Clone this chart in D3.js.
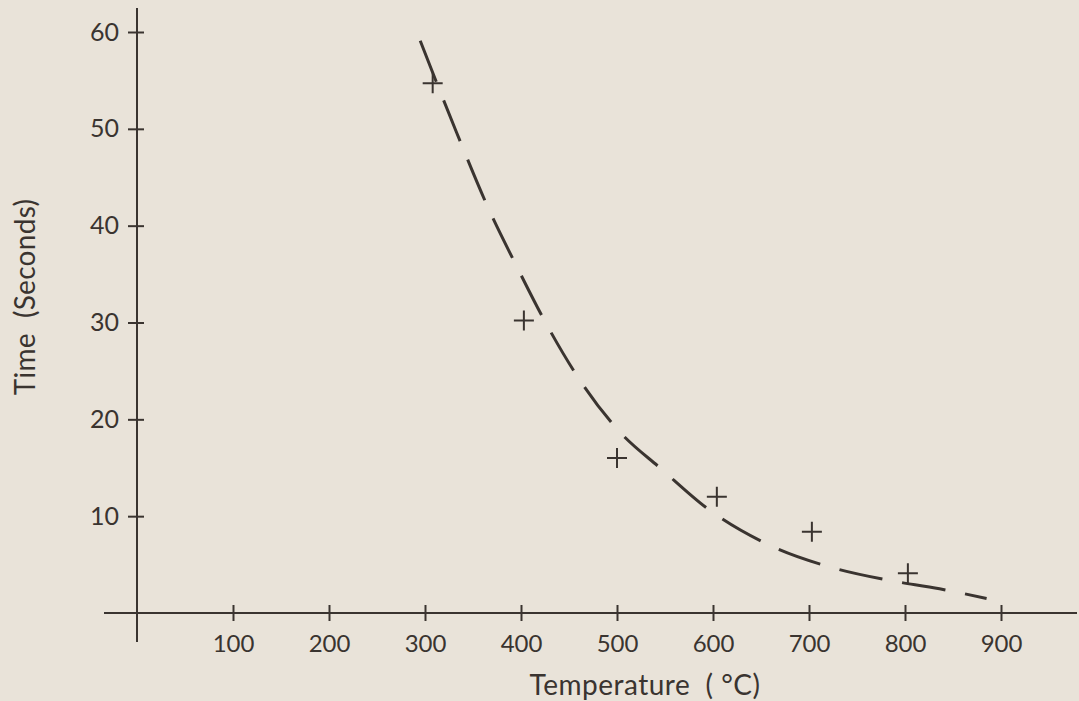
<!DOCTYPE html>
<html>
<head>
<meta charset="utf-8">
<script src="https://cdn.jsdelivr.net/npm/d3@7"></script>
<style>
  body { margin: 0; background: #e9e3d9; }
  svg { display: block; }
</style>
</head>
<body>
<div id="chart"></div>
<script>
// gemessene Punkte (+)
var measTemp = [308, 403, 500, 604, 703, 803];
var measTime = [54.7, 30.2, 16.0, 12.0, 8.4, 4.1];

// gestrichelte Kurve
var curveTemp = [295, 333, 366, 396, 425, 459, 501, 547, 594, 659, 722, 782, 836, 885];
var curveTime = [59.1, 49.6, 41.8, 35.7, 30.1, 24.4, 18.9, 14.8, 10.8, 7.0, 4.75, 3.4, 2.5, 1.5];

var xTicks = [100, 200, 300, 400, 500, 600, 700, 800, 900];
var yTicks = [10, 20, 30, 40, 50, 60];

var width = 1079, height = 701;
var ink = "#3a3430";
var font = "Lato, 'Open Sans', sans-serif";

var svg = d3.select("#chart")
    .append("svg")
    .attr("width", width)
    .attr("height", height);

svg.append("rect")
    .attr("width", width)
    .attr("height", height)
    .attr("fill", "#e9e3d9");

var x = d3.scaleLinear().domain([0, 900]).range([137, 1001]);
var y = d3.scaleLinear().domain([0, 60]).range([613, 32]);

// Achsenlinien
svg.append("line")
    .attr("x1", 104).attr("x2", 1077)
    .attr("y1", y(0)).attr("y2", y(0))
    .attr("stroke", ink).attr("stroke-width", 2);
svg.append("line")
    .attr("x1", x(0)).attr("x2", x(0))
    .attr("y1", 8).attr("y2", 642)
    .attr("stroke", ink).attr("stroke-width", 2);

// x-Achse
var xAxis = svg.append("g")
    .attr("transform", "translate(0," + y(0) + ")")
    .call(d3.axisBottom(x).tickValues(xTicks).tickSize(0).tickPadding(22));
xAxis.select(".domain").remove();
xAxis.selectAll(".tick line")
    .attr("y1", -8).attr("y2", 8)
    .attr("stroke", ink).attr("stroke-width", 2);
xAxis.selectAll(".tick text")
    .attr("fill", ink)
    .attr("font-family", font)
    .attr("font-size", "24px");

// y-Achse
var yAxis = svg.append("g")
    .attr("transform", "translate(" + x(0) + ",0)")
    .call(d3.axisLeft(y).tickValues(yTicks).tickSize(0).tickPadding(18));
yAxis.select(".domain").remove();
yAxis.selectAll(".tick line")
    .attr("x1", -9).attr("x2", 7)
    .attr("stroke", ink).attr("stroke-width", 2);
yAxis.selectAll(".tick text")
    .attr("fill", ink)
    .attr("font-family", font)
    .attr("font-size", "25px");

// Achsentitel
svg.append("text")
    .attr("x", 645)
    .attr("y", 695)
    .attr("text-anchor", "middle")
    .attr("fill", ink)
    .attr("font-family", font)
    .attr("font-size", "28px")
    .attr("letter-spacing", "0.5px")
    .attr("xml:space", "preserve")
    .text("Temperature  ( °C)");

svg.append("text")
    .attr("transform", "translate(35,297) rotate(-90)")
    .attr("text-anchor", "middle")
    .attr("fill", ink)
    .attr("font-family", font)
    .attr("font-size", "28px")
    .attr("letter-spacing", "0.3px")
    .attr("xml:space", "preserve")
    .text("Time  (Seconds)");

// gestrichelte Kurve
var curveData = curveTemp.map(function (t, i) { return { temp: t, time: curveTime[i] }; });
var line = d3.line()
    .x(function (d) { return x(d.temp); })
    .y(function (d) { return y(d.time); })
    .curve(d3.curveMonotoneX);

svg.append("path")
    .datum(curveData)
    .attr("d", line)
    .attr("fill", "none")
    .attr("stroke", ink)
    .attr("stroke-width", 3)
    .attr("stroke-dasharray", "44,20");

// Messpunkte als Kreuze
var measData = measTemp.map(function (t, i) { return { temp: t, time: measTime[i] }; });
var s = 10;
svg.append("g")
    .selectAll("path")
    .data(measData)
    .enter()
    .append("path")
    .attr("transform", function (d) { return "translate(" + x(d.temp) + "," + y(d.time) + ")"; })
    .attr("d", "M" + (-s) + ",0H" + s + "M0," + (-s) + "V" + s)
    .attr("fill", "none")
    .attr("stroke", ink)
    .attr("stroke-width", 2);
</script>
</body>
</html>
